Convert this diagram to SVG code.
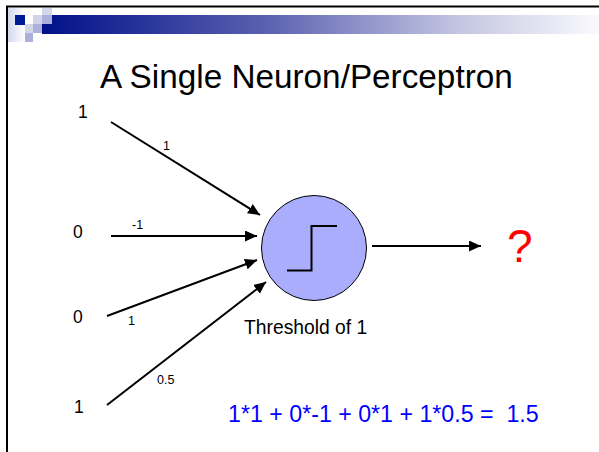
<svg xmlns="http://www.w3.org/2000/svg" width="599" height="452" viewBox="0 0 599 452">
<defs>
<linearGradient id="bar" x1="0" y1="0" x2="1" y2="0">
<stop offset="0" stop-color="#001088"/>
<stop offset="0.4" stop-color="#5a60b0"/>
<stop offset="0.75" stop-color="#c4c6e2"/>
<stop offset="1" stop-color="#fafafd"/>
</linearGradient>
<linearGradient id="lite" x1="0" y1="0" x2="1" y2="0">
<stop offset="0" stop-color="#d4d7ec"/>
<stop offset="1" stop-color="#ffffff"/>
</linearGradient>
<marker id="ah" markerUnits="userSpaceOnUse" markerWidth="14" markerHeight="12" refX="12" refY="5.5" orient="auto">
<path d="M0,0 L12,5.5 L0,11 Z" fill="#000"/>
</marker>
<style>
.t{font-family:"Liberation Sans",Arial,sans-serif;fill:#000}
.in{font-size:17.5px}
.w{font-size:12.5px}
.c{stroke:#000;stroke-width:2;fill:none;marker-end:url(#ah)}
</style>
</defs>
<rect width="599" height="452" fill="#fff"/>
<g id="decor">
<rect x="8" y="8" width="17" height="34" fill="url(#lite)"/>
<rect x="42" y="15" width="557" height="19" fill="url(#bar)"/>
<rect x="15" y="15" width="10" height="10" fill="#001a94"/>
<rect x="42" y="8" width="10" height="7" fill="#d4d6ea"/>
<rect x="33" y="15" width="9" height="9" fill="#d0d3ea"/>
<rect x="42" y="15" width="10" height="9" fill="#aeb0dc"/>
<rect x="25" y="24" width="8" height="9" fill="#d4d6ea"/>
<rect x="33" y="24" width="9" height="9" fill="#aeb0dc"/>
<rect x="25" y="33" width="8" height="9" fill="#aeb0dc"/>
<line x1="6" y1="6.5" x2="599" y2="6.5" stroke="#000" stroke-width="2"/>
<line x1="7" y1="6" x2="7" y2="452" stroke="#000" stroke-width="2"/>
</g>
<text class="t" x="100" y="88" font-size="33.3">A Single Neuron/Perceptron</text>
<g id="inputs">
<text class="t in" x="78" y="118">1</text>
<text class="t in" x="73" y="238">0</text>
<text class="t in" x="73" y="323">0</text>
<text class="t in" x="74" y="413">1</text>
</g>
<g id="connectors">
<line class="c" x1="111" y1="122" x2="260" y2="215"/>
<line class="c" x1="111" y1="236" x2="257" y2="236"/>
<line class="c" x1="107" y1="316" x2="257" y2="260"/>
<line class="c" x1="107" y1="405" x2="266" y2="282"/>
<line class="c" x1="372" y1="246" x2="481" y2="246"/>
</g>
<g id="weights">
<text class="t w" x="163" y="150">1</text>
<text class="t w" x="132" y="229">-1</text>
<text class="t w" x="128" y="325">1</text>
<text class="t w" x="157" y="384">0.5</text>
</g>
<g id="neuron">
<circle cx="314" cy="248" r="52.5" fill="#aaadfb" stroke="#000" stroke-width="1"/>
<path d="M287,270.5 H311.5 V226 H337" fill="none" stroke="#000" stroke-width="2"/>
<text class="t" x="244" y="334" font-size="19.3">Threshold of 1</text>
</g>
<g id="output">
<text x="507" y="262" font-family="Liberation Sans,Arial,sans-serif" font-size="46" fill="#ff0000">?</text>
</g>
<text x="228" y="422" font-family="Liberation Sans,Arial,sans-serif" font-size="23.2" fill="#0000ff" xml:space="preserve">1*1 + 0*-1 + 0*1 + 1*0.5 =  1.5</text>
</svg>
